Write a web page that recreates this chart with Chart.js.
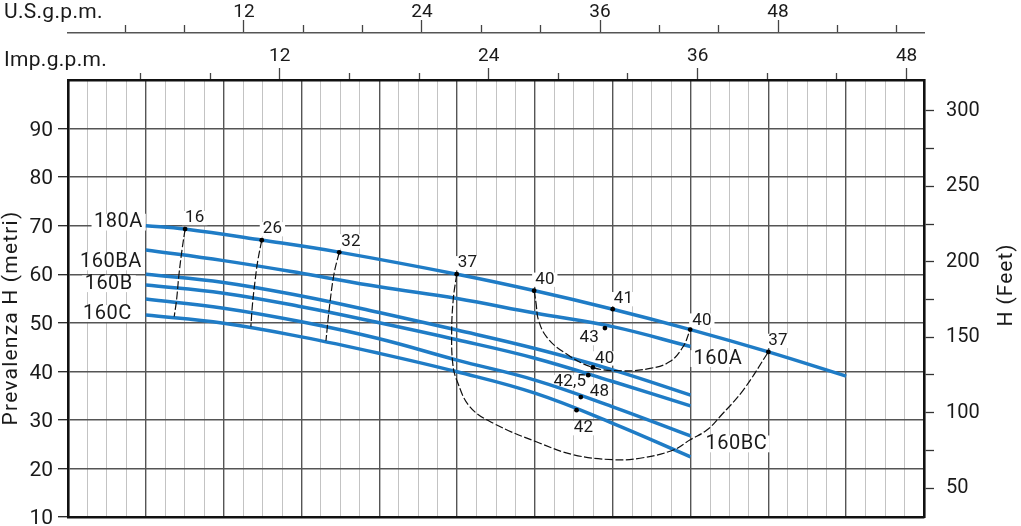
<!DOCTYPE html>
<html>
<head>
<meta charset="utf-8">
<script src="https://cdn.jsdelivr.net/npm/chart.js@4.4.1/dist/chart.umd.min.js"></script>
<style>
html,body{margin:0;padding:0;background:#fff;}
canvas{display:block;}
</style>
</head>
<body>
<canvas id="c" width="1021" height="526"></canvas>
<script>
// ------------------ DATA (flow in l/min, head in m) ------------------
const q180A = [20, 30, 50, 70, 100, 120, 140, 160, 180, 200];
const h180A = [70, 69.3, 67, 64.5, 60, 56.6, 52.8, 48.6, 44, 39];

const q160 = [20, 40, 60, 80, 100, 120, 140, 160];
const h160_1 = [65, 62.8, 60.2, 57.4, 55.0, 52.0, 49.2, 45.1];
const h160_2 = [60, 58.3, 55.5, 52.1, 48.5, 44.7, 40.3, 35.1];
const h160_3 = [57.8, 56.1, 53.3, 50.0, 46.5, 42.7, 37.9, 32.9];
const h160_4 = [54.9, 53.0, 50.2, 46.7, 42.3, 38.2, 32.7, 26.7];
const h160_5 = [51.6, 49.9, 47.1, 43.7, 39.9, 35.5, 29.3, 22.4];

// iso-efficiency (dashed) lines
const isoQ16 = [30.1, 29.3, 28.5, 27.9, 27.3];
const isoH16 = [69.3, 65.0, 59.8, 54.7, 51.3];
const isoQ26 = [49.8, 48.8, 48.1, 47.4, 47.0];
const isoH26 = [67.0, 62.9, 58.8, 53.7, 49.2];
const isoQ32 = [69.7, 68.4, 67.2, 66.3];
const isoH32 = [64.5, 60.2, 53.3, 46.3];
const loopAQ = [119.8, 120.3, 120.9, 123.0, 127.3, 134.9, 142.7, 149.6, 154.7, 158.1, 159.9];
const loopAH = [56.6, 54.0, 50.6, 47.1, 44.0, 40.8, 40.1, 40.6, 42.0, 45.1, 48.6];
const loopBCQ = [99.9, 99.0, 98.6, 98.9, 99.9, 103.3, 109.3, 121.3, 130.0, 140.0, 147.0, 155.6, 159.9, 164.2, 167.6, 173.6, 180.0];
const loopBCH = [60.0, 54.7, 47.8, 41.5, 38.2, 32.7, 29.3, 25.2, 22.8, 21.8, 22.1, 23.8, 25.9, 27.9, 30.7, 36.2, 44.0];

// efficiency marks
const dotQ = [30.1, 49.8, 69.7, 99.9, 119.8, 140.0, 138.0, 134.9, 133.7, 131.8, 130.7, 159.9, 180.0];
const dotH = [69.3, 67.0, 64.5, 60.0, 56.6, 52.8, 48.9, 40.8, 39.2, 34.7, 32.0, 48.6, 44.0];
const dotLabels = ['16', '26', '32', '37', '40', '41', '43', '40', '42,5', '48', '42', '40', '37'];

const curveLabels = ['180A', '160BA', '160B', '160C', '160A', '160BC'];

// tick labels
const leftTickLabels = [10, 20, 30, 40, 50, 60, 70, 80, 90];
const rightTickLabels = [50, 100, 150, 200, 250, 300];
const usTickLabels = [12, 24, 36, 48];
const impTickLabels = [12, 24, 36, 48];

const yTitle = 'Prevalenza H (metri)';
const y2Title = 'H (Feet)';
const usTitle = 'U.S.g.p.m.';
const impTitle = 'Imp.g.p.m.';

// ------------------ STYLE ------------------
const FN = "'Roboto', sans-serif";
const FT = "'Roboto', sans-serif";
const BLUE = '#1f7cc6';
const MAJ = '#555555';
const MIN = '#bcbcbc';
const INK = '#1a1a1a';

// label placements (pixel offsets from their anchor point)
const dotLabelStyle = [
  [0, -11, 'left'], [1, -11, 'left'], [2, -11, 'left'], [1, -11, 'left'], [1, -11, 'left'],
  [1, -10, 'left'], [-6, 10, 'right'], [2, -9, 'left'], [-2, 7, 'right'], [9, -5, 'left'],
  [7, 18, 'center'], [2, -9, 'left'], [0, -11, 'left']
];
const curveLabelAnchors = [
  [q180A[0], h180A[0], -3, -3.5, 'right'],
  [q160[0], h160_1[0], -4, 12, 'right'],
  [q160[0], h160_2[0], -13, 9.5, 'right'],
  [q160[0], h160_5[0], -14, -1.5, 'right'],
  [q160[7], h160_1[7], 3, 12, 'left'],
  [q160[7], h160_4[7], 15, 8, 'left']
];

function pts(q, h) { return q.map((v, i) => ({x: v, y: h[i]})); }

function pumpDs(label, q, h) {
  return {label, data: pts(q, h), borderColor: BLUE, borderWidth: 3.5, tension: 0.4,
          pointRadius: 0, fill: false, order: 2};
}
function isoDs(label, q, h) {
  return {label, data: pts(q, h), borderColor: '#111', borderWidth: 1.2, borderDash: [8, 2.5],
          tension: 0.4, pointRadius: 0, fill: false, order: 1};
}

function drawText(ctx, txt, x, y, o) {
  ctx.save();
  ctx.font = (o.weight || 'normal') + ' ' + o.size + 'px ' + o.family;
  if ('letterSpacing' in ctx) ctx.letterSpacing = (o.ls || 0) + 'px';
  ctx.textBaseline = 'middle';
  const align = o.align || 'left';
  ctx.textAlign = align;
  const w = ctx.measureText(txt).width - (o.ls || 0);
  if (o.bg) {
    const left = align === 'left' ? x : align === 'right' ? x - w : x - w / 2;
    ctx.fillStyle = '#fff';
    ctx.fillRect(left - 3, y - o.size * 0.42, w + 6, o.size * 0.84);
  }
  ctx.fillStyle = INK;
  ctx.fillText(txt, x, y);
  ctx.restore();
}

const textPlugin = {
  id: 'texts',
  beforeDatasetsDraw(chart) {
    const ctx = chart.ctx, sx = chart.scales.x, sy = chart.scales.y;
    curveLabelAnchors.forEach((a, i) => {
      const x = sx.getPixelForValue(a[0]) + a[2];
      const y = sy.getPixelForValue(a[1]) + a[3];
      drawText(ctx, curveLabels[i], x, y, {size: 20, family: FN, ls: 0.5, align: a[4], bg: true});
    });
    dotQ.forEach((q, i) => {
      const s = dotLabelStyle[i];
      const x = sx.getPixelForValue(q) + s[0];
      const y = sy.getPixelForValue(dotH[i]) + s[1];
      drawText(ctx, dotLabels[i], x, y, {size: 17, family: FN, ls: 0.2, align: s[2], bg: true});
    });
  },
  afterDraw(chart) {
    const ctx = chart.ctx;
    drawText(ctx, usTitle, 4, 13, {size: 21, family: FT, ls: 0.3});
    drawText(ctx, impTitle, 4, 61, {size: 21, family: FT, ls: 0.3});
    ctx.save();
    ctx.translate(12, 318);
    ctx.rotate(-Math.PI / 2);
    drawText(ctx, yTitle, 0, 0, {size: 21, family: FT, ls: 1.2, align: 'center'});
    ctx.restore();
    ctx.save();
    ctx.translate(1007, 285);
    ctx.rotate(-Math.PI / 2);
    drawText(ctx, y2Title, 0, 0, {size: 21, family: FT, ls: 1, align: 'center'});
    ctx.restore();
  }
};

const isMaj20 = c => c.tick && Math.abs(c.tick.value % 20) < 1e-6;
const isMaj10 = c => c.tick && Math.abs(c.tick.value % 10) < 1e-6;

new Chart(document.getElementById('c').getContext('2d'), {
  type: 'line',
  data: {
    datasets: [
      pumpDs('180A', q180A, h180A),
      pumpDs('160BA', q160, h160_1),
      pumpDs('160B', q160, h160_2),
      pumpDs('160B-2', q160, h160_3),
      pumpDs('160C-2', q160, h160_4),
      pumpDs('160C', q160, h160_5),
      isoDs('16', isoQ16, isoH16),
      isoDs('26', isoQ26, isoH26),
      isoDs('32', isoQ32, isoH32),
      isoDs('160A', loopAQ, loopAH),
      isoDs('160BC', loopBCQ, loopBCH),
      {label: 'rendimento', type: 'scatter', data: pts(dotQ, dotH), showLine: false,
       pointRadius: 2.4, pointBackgroundColor: '#000', pointBorderWidth: 0, order: 0}
    ]
  },
  options: {
    responsive: false,
    animation: false,
    devicePixelRatio: 1,
    layout: {padding: 0},
    plugins: {legend: {display: false}, tooltip: {enabled: false}},
    scales: {
      x: {
        type: 'linear', position: 'bottom', min: 0, max: 220,
        ticks: {display: false, stepSize: 5},
        grid: {drawTicks: false, color: c => isMaj20(c) ? MAJ : MIN, lineWidth: c => isMaj20(c) ? 1.4 : 0.9},
        border: {display: true, color: '#111', width: 2.6},
        afterFit(s) { s.height = 9; s.paddingLeft = 0; s.paddingRight = 0; }
      },
      y: {
        type: 'linear', position: 'left', min: 10, max: 100,
        ticks: {stepSize: 5, callback: v => leftTickLabels.includes(v) ? String(v) : '',
                font: {family: FN, size: 21}, color: INK, padding: 5, labelOffset: 2},
        grid: {color: c => isMaj10(c) ? MAJ : MIN, lineWidth: c => isMaj10(c) ? 1.4 : 0.9,
               tickLength: 10, tickWidth: 1.3,
               tickColor: c => (c.tick && leftTickLabels.includes(c.tick.value)) ? '#222' : 'rgba(0,0,0,0)'},
        border: {color: '#111', width: 2.6},
        afterFit(s) { s.width = 68; s.paddingTop = 0; s.paddingBottom = 0; }
      },
      y2: {
        type: 'linear', position: 'right', min: 30.9, max: 320.4,
        ticks: {stepSize: 25, includeBounds: false, autoSkip: false,
                callback: v => rightTickLabels.includes(v) ? String(v) : '',
                font: {family: FN, size: 20}, color: INK, padding: 12},
        grid: {drawOnChartArea: false, tickLength: 10, tickWidth: 1.3, tickColor: '#333'},
        border: {color: '#111', width: 2.6},
        afterFit(s) { s.width = 97; s.paddingTop = 0; s.paddingBottom = 0; }
      },
      xUS: {
        type: 'linear', position: 'top', weight: 2, min: 0.1375, max: 57.84,
        ticks: {stepSize: 4, includeBounds: false, autoSkip: false, maxRotation: 0,
                callback: v => usTickLabels.includes(v) ? String(v) : '',
                font: {family: FN, size: 19, lineHeight: 1.2}, color: INK, padding: -4},
        grid: {drawOnChartArea: false, tickLength: 13, tickWidth: 1.3, tickColor: '#444',
               tickBorderDash: c => (c.tick && usTickLabels.includes(c.tick.value)) ? [] : [0, 5, 8, 100]},
        border: {color: '#555', width: 1.6},
        afterFit(s) { s.height = 33; s.paddingLeft = 0; s.paddingRight = 0; }
      },
      xImp: {
        type: 'linear', position: 'top', weight: 1, min: -0.16, max: 49.0,
        ticks: {stepSize: 4, includeBounds: false, autoSkip: false, maxRotation: 0,
                callback: v => impTickLabels.includes(v) ? String(v) : '',
                font: {family: FN, size: 19, lineHeight: 1.2}, color: INK, padding: 0},
        grid: {drawOnChartArea: false, tickLength: 12, tickWidth: 1.3,
               tickColor: c => (c.tick && c.tick.value === 0) ? 'rgba(0,0,0,0)' : '#444',
               tickBorderDash: c => (c.tick && impTickLabels.includes(c.tick.value)) ? [] : [0, 5, 7, 100]},
        border: {color: '#111', width: 2.6},
        afterFit(s) { s.height = 47; s.paddingLeft = 0; s.paddingRight = 0; }
      }
    }
  },
  plugins: [textPlugin]
});
</script>
</body>
</html>
